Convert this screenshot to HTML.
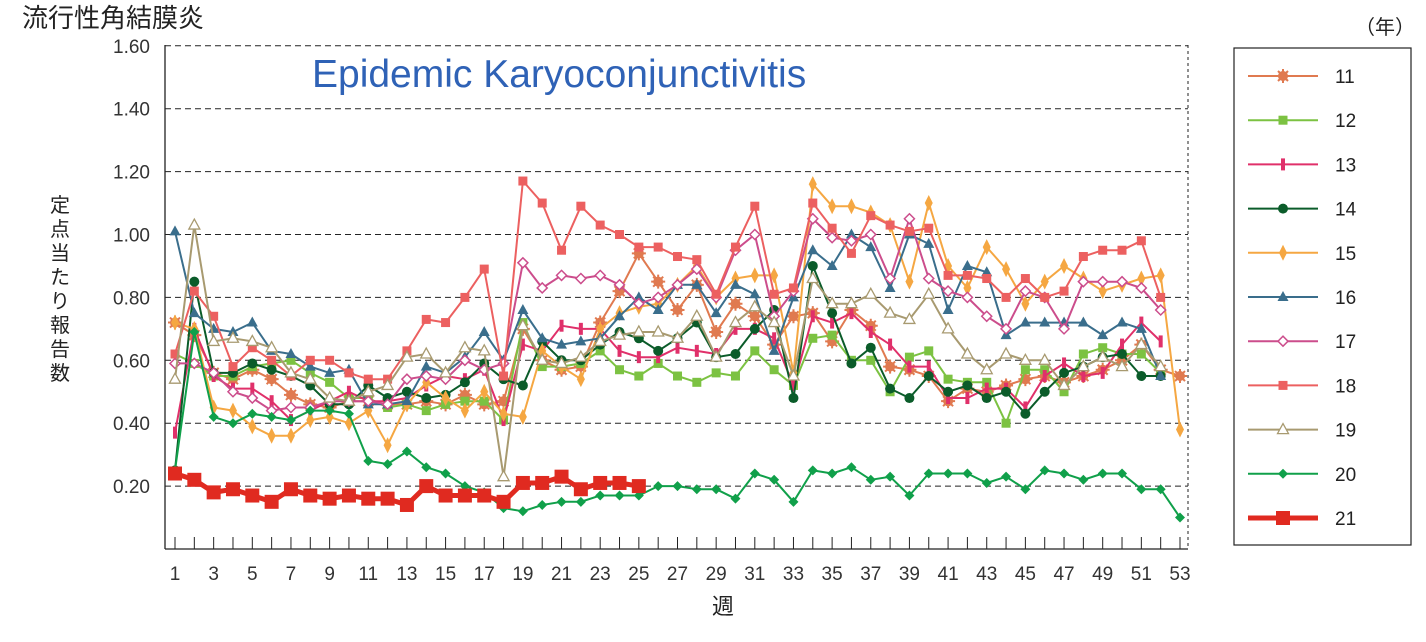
<!DOCTYPE html>
<html><head><meta charset="utf-8">
<style>
body{margin:0;background:#fff;width:1426px;height:637px;overflow:hidden;font-family:"Liberation Sans","Noto Sans CJK JP",sans-serif}
svg text{font-family:"Liberation Sans","Noto Sans CJK JP",sans-serif}
</style></head><body>
<svg id="c" width="1426" height="637" xmlns="http://www.w3.org/2000/svg">
<text x="22" y="27" font-size="26" fill="#222">流行性角結膜炎</text>
<text x="1355" y="34" font-size="20" fill="#222">（年）</text>
<text x="312" y="87" font-size="39" fill="#2f62b6">Epidemic Karyoconjunctivitis</text>
<text x="712" y="614" font-size="22" fill="#222">週</text>
<g font-size="20" fill="#222">
<text x="50" y="212">定</text><text x="50" y="236">点</text><text x="50" y="260">当</text><text x="50" y="284">た</text><text x="50" y="308">り</text><text x="50" y="332">報</text><text x="50" y="356">告</text><text x="50" y="380">数</text>
</g>
<g id="g"></g>
<rect x="1234" y="48" width="177" height="497" fill="none" stroke="#222" stroke-width="1.2"/>
</svg>
<script>
const g=document.getElementById('g');const NS='http://www.w3.org/2000/svg';
let h='';
const X=w=>175+(w-1)*(1005/52), Y=v=>549-v*314.5;
for(let i=1;i<=8;i++){const y=Y(i*0.2);h+=`<line x1="165" x2="1188" y1="${y}" y2="${y}" stroke="#222" stroke-dasharray="6,4" stroke-width="1"/>`;
h+=`<text x="150" y="${y+7}" font-size="19" fill="#333" text-anchor="end">${(i*0.2).toFixed(2)}</text>`;}
h+=`<line x1="1188" x2="1188" y1="45" y2="549" stroke="#222" stroke-dasharray="3,3"/>`;
h+=`<line x1="165" x2="165" y1="45" y2="549" stroke="#222" stroke-width="1.3"/><line x1="165" x2="1188" y1="549" y2="549" stroke="#222" stroke-width="1.3"/>`;
for(let w=1;w<=53;w++){h+=`<line x1="${X(w)}" x2="${X(w)}" y1="537" y2="549" stroke="#222"/>`;if(w%2)h+=`<text x="${X(w)}" y="580" font-size="19" fill="#333" text-anchor="middle">${w}</text>`;}
const S={
11:["#e07a50","star",[0.72,0.68,0.56,0.54,0.57,0.54,0.49,0.46,0.45,0.47,0.47,0.46,0.46,0.47,0.46,0.49,0.46,0.47,0.70,0.60,0.57,0.58,0.72,0.82,0.94,0.85,0.76,0.84,0.69,0.78,0.74,0.65,0.74,0.75,0.66,0.76,0.71,0.58,0.57,0.55,0.47,0.51,0.50,0.52,0.54,0.55,0.53,0.55,0.57,0.60,0.65,0.57,0.55]],
12:["#7cc242","sq",[0.62,0.59,0.55,0.55,0.58,0.59,0.60,0.56,0.53,0.48,0.48,0.45,0.46,0.44,0.46,0.47,0.47,0.41,0.72,0.58,0.58,0.59,0.63,0.57,0.55,0.59,0.55,0.53,0.56,0.55,0.63,0.57,0.52,0.67,0.68,0.60,0.60,0.50,0.61,0.63,0.54,0.53,0.53,0.40,0.57,0.57,0.50,0.62,0.64,0.62,0.62,0.56]],
13:["#e0306a","bar",[0.37,0.70,0.55,0.51,0.51,0.47,0.41,0.44,0.47,0.50,0.47,0.47,0.48,0.52,0.55,0.54,0.57,0.41,0.65,0.63,0.71,0.70,0.70,0.63,0.61,0.61,0.64,0.63,0.62,0.70,0.70,0.67,0.52,0.74,0.72,0.75,0.69,0.65,0.58,0.58,0.48,0.48,0.51,0.51,0.45,0.55,0.59,0.55,0.56,0.65,0.72,0.66]],
14:["#0b5c2a","circ",[0.25,0.85,0.56,0.56,0.59,0.57,0.55,0.52,0.46,0.46,0.52,0.48,0.50,0.48,0.49,0.53,0.59,0.54,0.52,0.66,0.60,0.60,0.65,0.69,0.67,0.63,0.67,0.72,0.61,0.62,0.70,0.76,0.48,0.90,0.75,0.59,0.64,0.51,0.48,0.55,0.50,0.52,0.48,0.50,0.43,0.50,0.56,0.58,0.61,0.62,0.55,0.55]],
15:["#f5a742","vdia",[0.72,0.70,0.45,0.44,0.39,0.36,0.36,0.41,0.42,0.40,0.44,0.33,0.46,0.53,0.48,0.44,0.50,0.43,0.42,0.63,0.58,0.54,0.70,0.75,0.77,0.78,0.84,0.90,0.80,0.86,0.87,0.87,0.56,1.16,1.09,1.09,1.07,1.03,0.85,1.10,0.90,0.83,0.96,0.89,0.78,0.85,0.90,0.86,0.82,0.84,0.86,0.87,0.38]],
16:["#3a6e8c","tri",[1.01,0.75,0.70,0.69,0.72,0.63,0.62,0.58,0.56,0.57,0.46,0.46,0.47,0.58,0.56,0.61,0.69,0.60,0.76,0.67,0.65,0.66,0.67,0.74,0.80,0.76,0.84,0.84,0.75,0.84,0.81,0.63,0.80,0.95,0.90,1.00,0.96,0.83,1.00,0.97,0.76,0.90,0.88,0.68,0.72,0.72,0.72,0.72,0.68,0.72,0.70,0.55]],
17:["#cc4d8c","odia",[0.59,0.59,0.56,0.50,0.48,0.44,0.45,0.45,0.47,0.47,0.47,0.46,0.54,0.55,0.54,0.60,0.57,0.59,0.91,0.83,0.87,0.86,0.87,0.84,0.78,0.80,0.84,0.89,0.80,0.95,1.00,0.74,0.82,1.05,0.99,0.98,1.00,0.86,1.05,0.86,0.82,0.80,0.74,0.70,0.82,0.80,0.70,0.85,0.85,0.85,0.83,0.76]],
18:["#ec6060","sq",[0.62,0.82,0.74,0.58,0.64,0.60,0.55,0.60,0.60,0.56,0.54,0.54,0.63,0.73,0.72,0.80,0.89,0.55,1.17,1.10,0.95,1.09,1.03,1.00,0.96,0.96,0.93,0.92,0.81,0.96,1.09,0.81,0.83,1.10,1.02,0.94,1.06,1.03,1.01,1.02,0.87,0.87,0.86,0.80,0.86,0.80,0.82,0.93,0.95,0.95,0.98,0.80]],
19:["#a89a70","otri",[0.54,1.03,0.66,0.67,0.66,0.64,0.56,0.54,0.48,0.47,0.50,0.52,0.61,0.62,0.56,0.64,0.63,0.23,0.71,0.60,0.59,0.61,0.66,0.68,0.69,0.69,0.67,0.74,0.61,0.72,0.77,0.72,0.55,0.86,0.78,0.78,0.81,0.75,0.73,0.81,0.70,0.62,0.57,0.62,0.60,0.60,0.52,0.58,0.61,0.58,0.65,0.58]],
20:["#10a04a","dia",[0.25,0.69,0.42,0.40,0.43,0.42,0.41,0.44,0.44,0.43,0.28,0.27,0.31,0.26,0.24,0.20,0.18,0.13,0.12,0.14,0.15,0.15,0.17,0.17,0.17,0.20,0.20,0.19,0.19,0.16,0.24,0.22,0.15,0.25,0.24,0.26,0.22,0.23,0.17,0.24,0.24,0.24,0.21,0.23,0.19,0.25,0.24,0.22,0.24,0.24,0.19,0.19,0.10]],
21:["#e02a20","big",[0.24,0.22,0.18,0.19,0.17,0.15,0.19,0.17,0.16,0.17,0.16,0.16,0.14,0.20,0.17,0.17,0.17,0.15,0.21,0.21,0.23,0.19,0.21,0.21,0.20]]};
function mk(t,x,y,c){switch(t){
case'sq':return `<rect x="${x-4.5}" y="${y-4.5}" width="9" height="9" fill="${c}"/>`;
case'big':return `<rect x="${x-7}" y="${y-7}" width="14" height="14" fill="${c}"/>`;
case'star':return `<circle cx="${x}" cy="${y}" r="5" fill="${c}"/><path d="M${x-7} ${y}H${x+7}M${x} ${y-7}V${y+7}M${x-5} ${y-5}L${x+5} ${y+5}M${x-5} ${y+5}L${x+5} ${y-5}" stroke="${c}" stroke-width="2"/>`;
case'bar':return `<rect x="${x-2}" y="${y-6}" width="4" height="12" fill="${c}"/>`;
case'circ':return `<circle cx="${x}" cy="${y}" r="5" fill="${c}"/>`;
case'vdia':return `<path d="M${x} ${y-8}L${x+4} ${y}L${x} ${y+8}L${x-4} ${y}Z" fill="${c}"/>`;
case'dia':return `<path d="M${x} ${y-5}L${x+5} ${y}L${x} ${y+5}L${x-5} ${y}Z" fill="${c}"/>`;
case'odia':return `<path d="M${x} ${y-5}L${x+5} ${y}L${x} ${y+5}L${x-5} ${y}Z" fill="#fff" stroke="${c}" stroke-width="1.5"/>`;
case'tri':return `<path d="M${x} ${y-6}L${x+5.5} ${y+4}L${x-5.5} ${y+4}Z" fill="${c}"/>`;
case'otri':return `<path d="M${x} ${y-6}L${x+5.5} ${y+4}L${x-5.5} ${y+4}Z" fill="#fff" stroke="${c}" stroke-width="1.3"/>`;}}
let li=0;
for(const k of [11,12,13,14,15,16,17,18,19,20,21]){const [c,t,d]=S[k];
const pts=d.map((v,i)=>X(i+1).toFixed(1)+','+Y(v).toFixed(1)).join(' ');
const sw=t=='big'?5:2;
h+=`<polyline points="${pts}" fill="none" stroke="${c}" stroke-width="${sw}" stroke-linejoin="round"/>`;
d.forEach((v,i)=>h+=mk(t,X(i+1),Y(v),c));
const ly=76+li*44.2;li++;
h+=`<line x1="1248" x2="1318" y1="${ly}" y2="${ly}" stroke="${c}" stroke-width="${sw}"/>`+mk(t,1283,ly,c)+`<text x="1335" y="${ly+7}" font-size="19" fill="#222">${k}</text>`;}
g.innerHTML=h;
</script>
</body></html>
